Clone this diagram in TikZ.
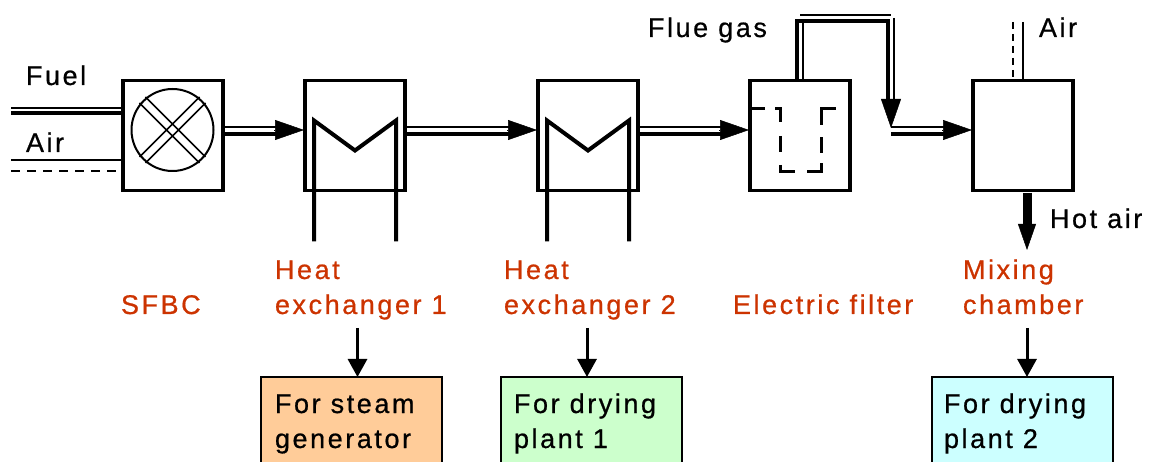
\documentclass[tikz,border=0pt]{standalone}
\usepackage{fontspec}
\setmainfont[LetterSpace=9.5,RawFeature={embolden=0.7}]{Liberation Sans}
\usetikzlibrary{arrows.meta,calc}
\definecolor{lab}{HTML}{CC3300}
\tikzset{
  x=1pt,y=-1pt,
  every node/.style={inner sep=0pt,outer sep=0pt},
  unit/.style={draw,line width=3.4pt,minimum width=100pt,minimum height=110pt,fill=white},
  txt/.style={anchor=base west,align=left,font=\fontsize{27}{35}\selectfont,text=black},
  red/.style={txt,text=lab},
  outbox/.style={draw,line width=1.5pt,minimum width=181pt,minimum height=110pt},
  thick line/.style={line width=3.6pt},
  thin line/.style={line width=1.6pt},
  mid line/.style={line width=2.4pt},
  dash line/.style={line width=1.6pt,dash pattern=on 9pt off 7pt},
  tip/.style={line width=.5pt,-{Triangle[width=20pt,length=29pt]}},
  small arrow/.style={line width=3pt,-{Triangle[width=19pt,length=18pt]}},
}
\newcommand{\flowline}[2]{%
  \draw[mid line] (#1.east |- 0,127) -- ($(#2.west |- 0,127)+(-20,0)$);
  \draw[thick line] (#1.east |- 0,134) -- ($(#2.west |- 0,134)+(-20,0)$);
  \draw[tip] ($(#2.west |- 0,130)+(-31,0)$) -- ($(#2.west |- 0,130)+(-1,0)$);
}
\begin{document}
\begin{tikzpicture}
\useasboundingbox (0,0) rectangle (1149,462);
\clip (0,0) rectangle (1149,462);
% destination boxes
\node[outbox,fill={rgb,255:red,255;green,204;blue,153},anchor=north west] (b1) at (261,377) {};
\node[outbox,fill={rgb,255:red,204;green,255;blue,204},anchor=north west] (b2) at (501,377) {};
\node[outbox,fill={rgb,255:red,204;green,255;blue,255},anchor=north west] (b3) at (932,377) {};
\node[txt] (t1) at (275,448) {For steam\\generator};
\node[txt] (t2) at (514,448) {For drying\\plant 1};
\node[txt] (t3) at (944,448) {For drying\\plant 2};
% units
\node[unit] (sfbc) at (173,135.5) {};
\node[unit] (hx1) at (355,135.5) {};
\node[unit] (hx2) at (588,135.5) {};
\node[unit] (ef) at (800,135.5) {};
\node[unit] (mc) at (1023,135.5) {};
% burner
\node[draw,circle,line width=2pt,minimum size=82pt] (burner) at (172.5,130) {};
\draw[line width=1.6pt] (burner.center)++(-27,-33) -- ++(60,60) (burner.center)++(-33,-27) -- ++(60,60)
  (burner.center)++(27,-33) -- ++(-60,60) (burner.center)++(33,-27) -- ++(-60,60);
% free ends
\coordinate (fuelin) at (11,110);
\coordinate (airin) at (11,165);
\coordinate (air2) at (1018,22);
\coordinate (bend1) at (800,18);
\coordinate (bend2) at (891,18);
\coordinate (merge) at (891,130);
% fuel / air
\draw[thin line] ($(fuelin)+(0,-2)$) -- ($(sfbc.west |- fuelin)+(0,-2)$);
\draw[thick line] ($(fuelin)+(0,3)$) -- ($(sfbc.west |- fuelin)+(0,3)$);
\draw[thin line] ($(airin)+(0,-5)$) -- ($(sfbc.west |- airin)+(0,-5)$);
\draw[dash line] ($(airin)+(0,6)$) -- ($(sfbc.west |- airin)+(0,6)$);
% main flows
\flowline{sfbc}{hx1}
\flowline{hx1}{hx2}
\flowline{hx2}{ef}
% flue gas route
\draw[thick line] ($(ef.north)+(-3,0)$) |- ($(bend2)+(-3,3)$) -- ($(merge)+(-3,-25)$);
\draw[mid line] ($(ef.north)+(3,0)$) -- ($(bend1)+(3,3)$);
\draw[thin line] ($(bend1)+(0,-3)$) -- ($(bend2)+(0,-3)$);
\draw[mid line] ($(bend2)+(3,0)$) -- ($(merge)+(3,-25)$);
\draw[tip] ($(merge)+(0,-31)$) -- ($(merge)+(0,-2)$);
\draw[mid line] ($(merge)+(0,-3)$) -- ($(mc.west |- merge)+(-25,-3)$);
\draw[thick line] ($(merge)+(0,4)$) -- ($(mc.west |- merge)+(-25,4)$);
\draw[tip] ($(mc.west |- merge)+(-31,0)$) -- ($(mc.west |- merge)+(-1,0)$);
% filter internals
\draw[line width=3pt]
  (750,109) -- (765,109)
  (775,109) -- (780,109) -- (780,122)
  (780,136) -- (780,152)
  (780,165) -- (780,172) -- (795,172)
  (807,172) -- (821,172) -- (821,163)
  (821,153) -- (821,137)
  (821,125) -- (821,109) -- (836,109)
  (848,109) -- (851,109);
% coils
\foreach \n in {hx1,hx2}{
  \draw[line width=4pt,line join=miter] ($(\n.center)+(-41,106)$) -- ($(\n.center)+(-41,-15)$) -- ($(\n.center)+(0,15)$) -- ($(\n.center)+(41,-15)$) -- ($(\n.center)+(41,106)$);
}
% mixing chamber
\draw[dash line,dash pattern=on 7pt off 5pt] ($(air2)+(-5,0)$) -- ($(mc.north -| air2)+(-5,0)$);
\draw[thin line] ($(air2)+(5,0)$) -- ($(mc.north -| air2)+(5,0)$);
\coordinate (hot) at (1027,250);
\draw[line width=9pt] (1027,193) -- (1027,230);
\draw[line width=.5pt,-{Triangle[width=18pt,length=26pt]}] (1027,224) -- (hot);
% labels
\node[txt] (lfuel) at (26,85) {Fuel};
\node[txt] (lair) at (26,152) {Air};
\node[txt] (lflue) at (648,37) {Flue gas};
\node[txt] (lair2) at (1039,37) {Air};
\node[txt] (lhot) at (1050,228) {Hot air};
\node[red] (lsfbc) at (121,314) {SFBC};
\node[red] (lh1) at (275,314) {Heat\\exchanger 1};
\node[red] (lh2) at (504,314) {Heat\\exchanger 2};
\node[red] (lef) at (733,314) {Electric filter};
\node[red] (lm) at (963,314) {Mixing\\chamber};
% outputs
\draw[small arrow] (357.5,328) -- (b1.north -| 357.5,0);
\draw[small arrow] (587,328) -- (b2.north -| 587,0);
\draw[small arrow] (1027,328) -- (b3.north -| 1027,0);
\end{tikzpicture}
\end{document}
